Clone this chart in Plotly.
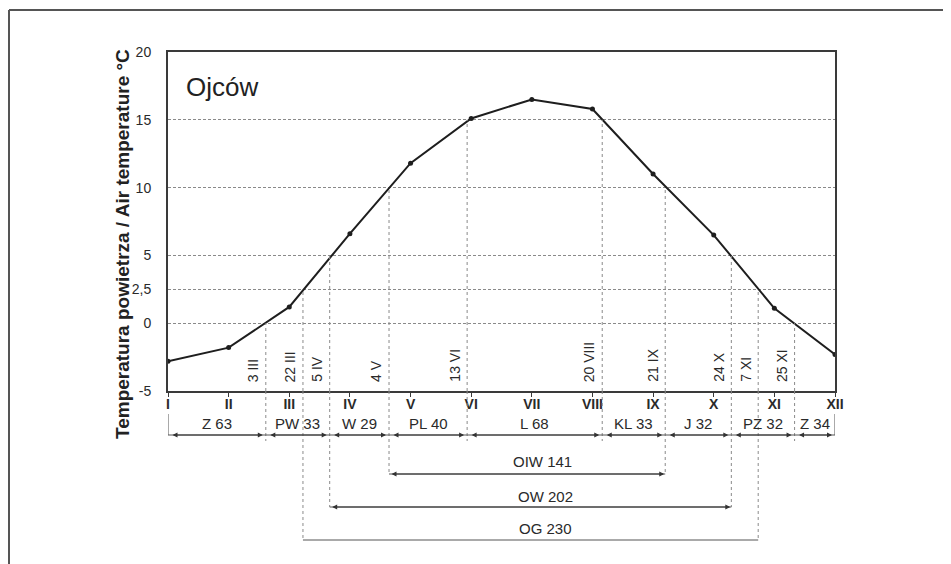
import plotly.graph_objects as go

# ---------------- data ----------------
months = ['I', 'II', 'III', 'IV', 'V', 'VI', 'VII', 'VIII', 'IX', 'X', 'XI', 'XII']
month_num = list(range(1, 13))
temps = [-2.8, -1.8, 1.2, 6.6, 11.8, 15.1, 16.5, 15.8, 11.0, 6.5, 1.1, -2.3]
days_in_month = [31, 28, 31, 30, 31, 30, 31, 31, 30, 31, 30, 31]

date_labels = ['3 III', '22 III', '5 IV', '4 V', '13 VI', '20 VIII', '21 IX', '24 X', '7 XI', '25 XI']
date_day = [3, 22, 5, 4, 13, 20, 21, 24, 7, 25]
date_month = [3, 3, 4, 5, 6, 8, 9, 10, 11, 11]
date_threshold = [0, 2.5, 5, 10, 15, 15, 10, 5, 2.5, 0]

season_labels = ['Z 63', 'PW 33', 'W 29', 'PL 40', 'L 68', 'KL 33', 'J 32', 'PZ 32', 'Z 34']
season_thresholds = [0, 5, 10, 15]

period_labels = ['OIW 141', 'OW 202', 'OG 230']
period_threshold = [10, 5, 2.5]

y_tickvals = [-5, 0, 2.5, 5, 10, 15, 20]
y_ticktext = ['-5', '0', '2,5', '5', '10', '15', '20']

station = 'Ojców'
y_title = 'Temperatura powietrza / Air temperature °C'

# ---------------- geometry ----------------
OFF = 8                     # page body margin of the browser
W, H = 951 - OFF, 564 - OFF
L, T = 168 - OFF, 52 - OFF
R = W - (835 - OFF)
B = H - (391 - OFF)
PW = W - L - R
PH = H - T - B
FONT = 'Liberation Sans, Arial, sans-serif'
TXT = '#2a2a2a'
GRID = '#8a8a8a'


def py(p):
    """window pixel row -> paper y"""
    return (H - B - (p - OFF)) / PH


def px(p):
    """window pixel column -> paper x"""
    return (p - OFF - L) / PW


def date_pos(d, m):
    return m + (d - 15) / days_in_month[m - 1]


date_x = [date_pos(d, m) for d, m in zip(date_day, date_month)]

fig = go.Figure()
fig.add_trace(go.Scatter(
    x=month_num, y=temps, mode='lines+markers',
    line=dict(color='#1e1e1e', width=2),
    marker=dict(color='#1e1e1e', size=5),
    showlegend=False, hoverinfo='skip'))

shapes = []
annotations = []

# season boundaries
bounds = [1] + [x for x, t in zip(date_x, date_threshold) if t in season_thresholds] + [12]

ROW_ARROW = 435
ROW_SEASON = 423
ROW_BRACKET_TOP = 414
ROW_SHORT_END = 441
PERIOD_LINE = [474, 507, 540]
PERIOD_TEXT = [461, 496, 528]
PERIOD_ARROWS = [True, True, False]

# vertical dotted lines: inside plot (data) and below the axis
for x, t, lab in zip(date_x, date_threshold, date_labels):
    shapes.append(dict(type='line', xref='x', yref='y', x0=x, x1=x, y0=-5, y1=t,
                       line=dict(color=GRID, width=1, dash='dot')))
    if t in period_threshold:
        yend = PERIOD_LINE[period_threshold.index(t)]
    else:
        yend = ROW_SHORT_END
    shapes.append(dict(type='line', xref='x', yref='paper', x0=x, x1=x, y0=0, y1=py(yend),
                       line=dict(color=GRID, width=1, dash='dot')))
    annotations.append(dict(x=x, y=-5, xref='x', yref='y', text=lab, showarrow=False,
                            textangle=-90, xanchor='right', yanchor='bottom',
                            xshift=-3, yshift=7, font=dict(family=FONT, size=14, color=TXT)))

# season row
shapes.append(dict(type='line', xref='x', yref='paper', x0=1, x1=12,
                   y0=py(ROW_ARROW), y1=py(ROW_ARROW), line=dict(color='#555', width=1)))
for xb in (1, 12):
    shapes.append(dict(type='line', xref='x', yref='paper', x0=xb, x1=xb,
                       y0=py(ROW_BRACKET_TOP), y1=py(ROW_ARROW), line=dict(color='#555', width=1)))
for a, b, lab in zip(bounds[:-1], bounds[1:], season_labels):
    annotations.append(dict(x=(a + b) / 2, y=py(ROW_SEASON), xref='x', yref='paper', text=lab,
                            showarrow=False, xanchor='center', yanchor='middle',
                            font=dict(family=FONT, size=15, color=TXT)))
    annotations.append(dict(x=b, y=py(ROW_ARROW), xref='x', yref='paper', text='',
                            showarrow=True, axref='x', ayref='pixel', ax=a, ay=0,
                            arrowside='end+start', arrowhead=2, arrowsize=1, arrowwidth=1,
                            arrowcolor='#333', standoff=3, startstandoff=3))

# long periods
for lab, t, yl, yt, arr in zip(period_labels, period_threshold, PERIOD_LINE, PERIOD_TEXT, PERIOD_ARROWS):
    xs = [x for x, tt in zip(date_x, date_threshold) if tt == t]
    a, b = min(xs), max(xs)
    shapes.append(dict(type='line', xref='x', yref='paper', x0=a, x1=b, y0=py(yl), y1=py(yl),
                       line=dict(color='#555', width=1)))
    if arr:
        annotations.append(dict(x=b, y=py(yl), xref='x', yref='paper', text='',
                                showarrow=True, axref='x', ayref='pixel', ax=a, ay=0,
                                arrowside='end+start', arrowhead=2, arrowsize=1, arrowwidth=1,
                                arrowcolor='#333', standoff=1, startstandoff=1))
    annotations.append(dict(x=(a + b) / 2, y=py(yt), xref='x', yref='paper', text=lab,
                            xshift=15, showarrow=False, xanchor='center', yanchor='middle',
                            font=dict(family=FONT, size=15, color=TXT)))

# station name
annotations.append(dict(x=px(184), y=py(87), xref='paper', yref='paper', text=station,
                        showarrow=False, xanchor='left', yanchor='middle',
                        font=dict(family=FONT, size=26, color='#222')))
# y title
annotations.append(dict(x=px(122), y=py(244), xref='paper', yref='paper', text='<b>' + y_title + '</b>',
                        showarrow=False, textangle=-90, xanchor='center', yanchor='middle',
                        font=dict(family=FONT, size=19, color='#222')))

# outer image frame (top and left)
shapes.append(dict(type='line', xref='paper', yref='paper', x0=px(9), x1=px(951 + 5), y0=py(10), y1=py(10),
                   line=dict(color='#555', width=2)))
shapes.append(dict(type='line', xref='paper', yref='paper', x0=px(9), x1=px(9), y0=py(10), y1=py(564 + 5),
                   line=dict(color='#555', width=2)))

fig.update_layout(
    width=W, height=H,
    margin=dict(l=L, r=R, t=T, b=B, pad=0),
    paper_bgcolor='white', plot_bgcolor='white',
    shapes=shapes, annotations=annotations,
    showlegend=False,
    xaxis=dict(range=[1, 12], tickmode='array', tickvals=month_num,
               ticktext=['<b>' + m + '</b>' for m in months],
               tickfont=dict(family=FONT, size=14, color=TXT),
               showgrid=False, zeroline=False, showline=True, mirror=True,
               linecolor='#3a3a3a', linewidth=2, ticks='outside', ticklen=4,
               tickcolor='#3a3a3a', tickwidth=1, ticklabelstandoff=-5),
    yaxis=dict(range=[-5, 20], tickmode='array', tickvals=y_tickvals, ticktext=y_ticktext,
               tickfont=dict(family=FONT, size=14, color=TXT),
               showgrid=True, gridcolor=GRID, griddash='3px,2px', gridwidth=1,
               zeroline=False, showline=True, mirror=True,
               linecolor='#3a3a3a', linewidth=2, ticks='', ticklabelstandoff=12),
)

fig.write_html('out.html')
